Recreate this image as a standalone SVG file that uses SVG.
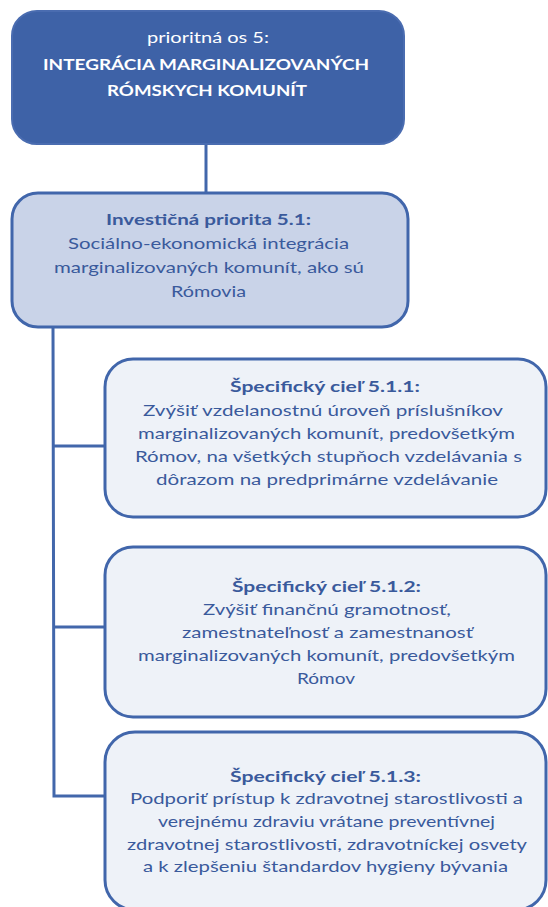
<svg xmlns="http://www.w3.org/2000/svg" width="548" height="907" viewBox="0 0 548 907">
<style>
  .dark { fill: #3e62a7; stroke: #4a6cb0; stroke-width: 2; }
  .mid { fill: #c9d3e8; stroke: #4166ab; stroke-width: 3; }
  .light { fill: #eef2f8; stroke: #4166ab; stroke-width: 3; }
  text { font-family: Lato, "Open Sans", "Liberation Sans", sans-serif; font-size: 16px; text-anchor: middle; }
  .w { fill: #ffffff; }
  .b { fill: #3a5a9c; }
  .bold { font-weight: bold; }
  .conn { stroke: #4267ab; stroke-width: 3; fill: none; }
</style>
<rect width="548" height="907" fill="#ffffff"/>
<g id="connectors">
  <line class="conn" x1="206" y1="144" x2="206" y2="193"/>
  <polyline class="conn" points="53,327 54,796 104,796"/>
  <line class="conn" x1="53" y1="446" x2="104" y2="446"/>
  <line class="conn" x1="54" y1="627" x2="104" y2="627"/>
</g>
<g id="node-os5">
  <rect class="dark" x="12" y="11" width="392" height="133" rx="25" ry="25"/>
  <text class="w" x="208" y="43" textLength="122" lengthAdjust="spacingAndGlyphs">prioritná os 5:</text>
  <text class="w bold" x="206" y="70" font-size="15" textLength="326" lengthAdjust="spacingAndGlyphs">INTEGRÁCIA MARGINALIZOVANÝCH</text>
  <text class="w bold" x="207" y="96" font-size="15" textLength="200" lengthAdjust="spacingAndGlyphs">RÓMSKYCH KOMUNÍT</text>
</g>
<g id="node-ip51">
  <rect class="mid" x="12" y="193" width="396" height="134" rx="26" ry="26"/>
  <text class="b bold" x="208.5" y="225" textLength="205" lengthAdjust="spacingAndGlyphs">Investičná priorita 5.1:</text>
  <text class="b" x="208.5" y="249" textLength="281" lengthAdjust="spacingAndGlyphs">Sociálno-ekonomická integrácia</text>
  <text class="b" x="209" y="273" textLength="310" lengthAdjust="spacingAndGlyphs">marginalizovaných komunít, ako sú</text>
  <text class="b" x="208.5" y="297" textLength="75" lengthAdjust="spacingAndGlyphs">Rómovia</text>
</g>
<g id="node-sc511">
  <rect class="light" x="105" y="359" width="441" height="158" rx="28" ry="28"/>
  <text class="b bold" x="325" y="392" textLength="190" lengthAdjust="spacingAndGlyphs">Špecifický cieľ 5.1.1:</text>
  <text class="b" x="323" y="416" textLength="360" lengthAdjust="spacingAndGlyphs">Zvýšiť vzdelanostnú úroveň príslušníkov</text>
  <text class="b" x="326.5" y="439" textLength="377" lengthAdjust="spacingAndGlyphs">marginalizovaných komunít, predovšetkým</text>
  <text class="b" x="328.5" y="462" textLength="387" lengthAdjust="spacingAndGlyphs">Rómov, na všetkých stupňoch vzdelávania s</text>
  <text class="b" x="327" y="485" textLength="342" lengthAdjust="spacingAndGlyphs">dôrazom na predprimárne vzdelávanie</text>
</g>
<g id="node-sc512">
  <rect class="light" x="105" y="547" width="441" height="170" rx="28" ry="28"/>
  <text class="b bold" x="326.5" y="592" textLength="189" lengthAdjust="spacingAndGlyphs">Špecifický cieľ 5.1.2:</text>
  <text class="b" x="327" y="615" textLength="248" lengthAdjust="spacingAndGlyphs">Zvýšiť finančnú gramotnosť,</text>
  <text class="b" x="327.5" y="638" textLength="291" lengthAdjust="spacingAndGlyphs">zamestnateľnosť a zamestnanosť</text>
  <text class="b" x="326.5" y="661" textLength="377" lengthAdjust="spacingAndGlyphs">marginalizovaných komunít, predovšetkým</text>
  <text class="b" x="326" y="684" textLength="58" lengthAdjust="spacingAndGlyphs">Rómov</text>
</g>
<g id="node-sc513">
  <rect class="light" x="105" y="732" width="441" height="178" rx="30" ry="30"/>
  <text class="b bold" x="325.5" y="782" textLength="191" lengthAdjust="spacingAndGlyphs">Špecifický cieľ 5.1.3:</text>
  <text class="b" x="326.5" y="804" textLength="393" lengthAdjust="spacingAndGlyphs">Podporiť prístup k zdravotnej starostlivosti a</text>
  <text class="b" x="326.5" y="827" textLength="337" lengthAdjust="spacingAndGlyphs">verejnému zdraviu vrátane preventívnej</text>
  <text class="b" x="327" y="850" textLength="400" lengthAdjust="spacingAndGlyphs">zdravotnej starostlivosti, zdravotníckej osvety</text>
  <text class="b" x="325.5" y="872" textLength="365" lengthAdjust="spacingAndGlyphs">a k zlepšeniu štandardov hygieny bývania</text>
</g>
</svg>
